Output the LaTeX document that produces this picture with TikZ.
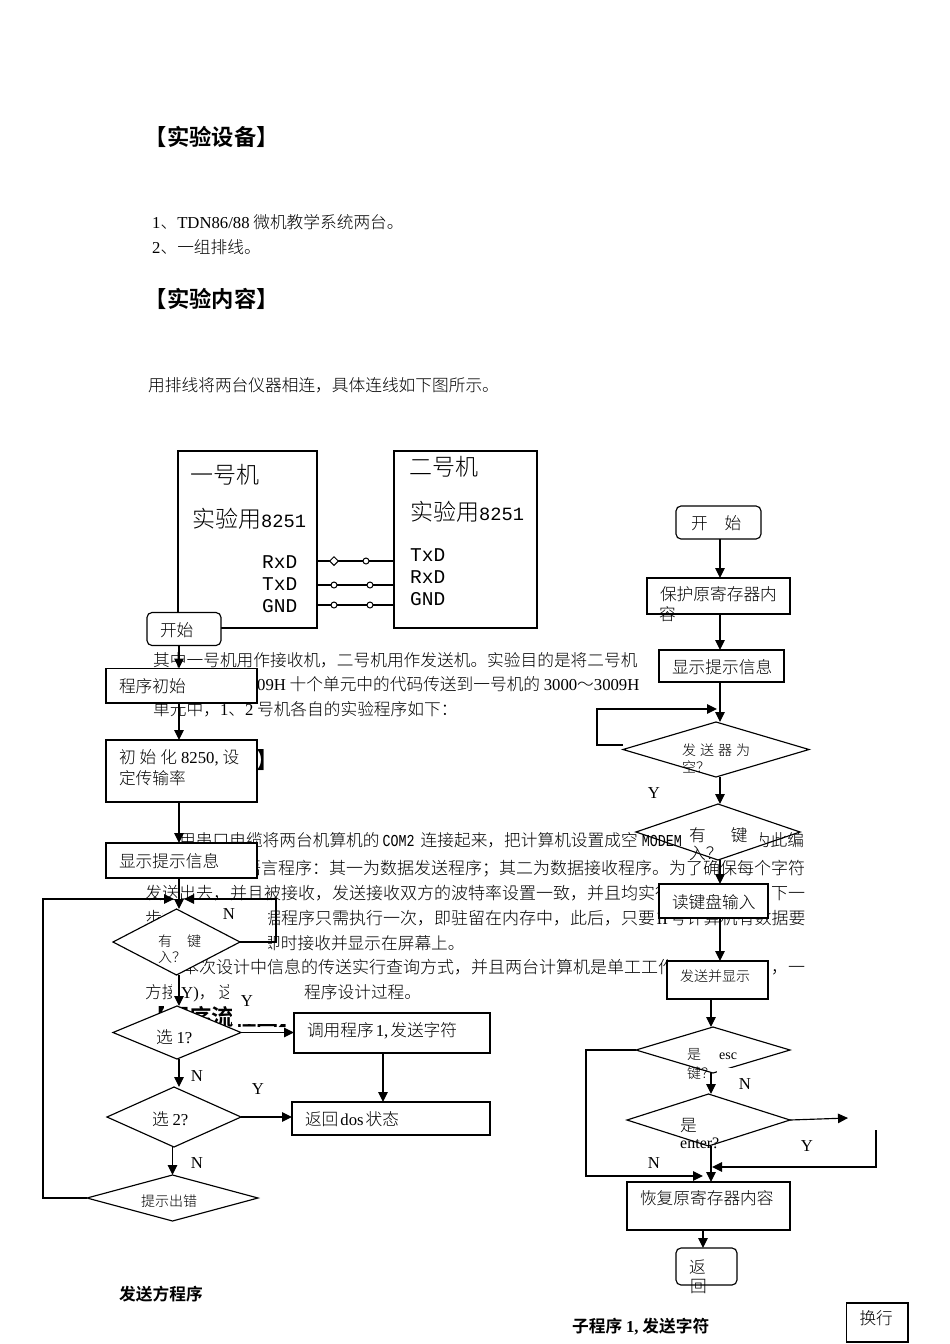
\documentclass[tikz,border=0pt]{standalone}
\usepackage{fontspec}
\usepackage{amsmath}
\setmainfont{Noto Sans CJK SC}[UprightFont={* Light},BoldFont={* Bold}]
\newfontfamily\lat{Liberation Serif}
\newfontfamily\tty{Liberation Mono}
\newfontfamily\narrow[FakeStretch=0.8]{Liberation Mono}
\newcommand{\fsz}[1]{\fontsize{#1}{#1}\selectfont}
\usetikzlibrary{shapes.geometric,arrows.meta}
\begin{document}
\begin{tikzpicture}[x=1pt,y=-1pt,
    capt/.style={anchor=base west, inner sep=0pt, font=\fsz{16.7}},
    captsmall/.style={capt, font=\fsz{14}},
    widecapt/.style={capt, font=\fsz{17}},
    headline/.style={capt, font=\fsz{22.3}\bfseries},
    bigcapt/.style={capt, font=\fsz{23}},
    pinlabel/.style={capt, font=\tty\fsz{19.5}},
    yn/.style={inner sep=0pt, font=\lat\fsz{16.7}},
    mach/.style={draw, fill=white, line width=1.15pt, anchor=north west, inner sep=0pt, outer sep=0pt},
    flowbox/.style 2 args={draw, fill=white, line width=1.15pt, anchor=north west, align=left,
        inner xsep=13pt, inner ysep=0pt, outer sep=0pt, text width={#1pt-26pt}, minimum height=#2pt,
        text height=14pt, text depth=0pt, font=\fontsize{16.7}{21}\selectfont},
    startbox/.style 2 args={flowbox={#1}{#2}, rounded corners=5pt},
    flowdia/.style 2 args={draw, diamond, aspect=1, inner sep=0pt, outer sep=0pt, line width=1.15pt,
        minimum width=#1pt, minimum height=#2pt},
    tap/.style={draw, fill=white, inner sep=0pt, line width=1pt},
    flow/.style={draw, line width=1.15pt, -{Triangle[length=10pt,width=9.5pt]}}]
    \useasboundingbox (0,0) rectangle (950,1344);

    \node[headline] (title1) at (144.7,145) {【实验设备】};
    \node[capt] (item1) at (152,228) {{\lat 1}、{\lat TDN86/88} 微机教学系统两台。};
    \node[capt] (item2) at (152,253) {{\lat 2}、一组排线。};
    \node[headline] (title2) at (144.7,307) {【实验内容】};
    \node[capt] (intro) at (148,391) {用排线将两台仪器相连，具体连线如下图所示。};
    \node[capt] (text1) at (153,666) {其中一号机用作接收机，二号机用作发送机。实验目的是将二号机};
    \node[capt] (text2) at (257,690) {{\lat 09H} 十个单元中的代码传送到一号机的 {\lat 3000}～{\lat 3009H}};
    \node[capt] (text3) at (153,715) {单元中，{\lat 1}、{\lat 2} 号机各自的实验程序如下：};
    \node[headline] (title3) at (256,768) {】};
    \node[capt] (text4) at (179,846) {用串口电缆将两台机算机的\hspace{3pt}{\narrow COM2}\hspace{6pt}连接起来，把计算机设置成空\hspace{4pt}{\narrow MODEM}\hspace{72pt}为此编};
    \node[widecapt] (text5) at (244,874) {语言程序：其一为数据发送程序；其二为数据接收程序。为了确保每个字符};
    \node[widecapt] (text6a) at (145,899) {发送出去，并且被接收，发送接收双方的波特率设置一致，并且均实行};
    \node[widecapt] (text6b) at (771,899) {下一};
    \node[widecapt] (text7a) at (145,924) {步接};
    \node[widecapt] (text7b) at (264,924) {据程序只需执行一次，即驻留在内存中，此后，只要\hspace{1.5pt}{\lat II}\hspace{1.5pt}号计算机有数据要};
    \node[capt] (text8) at (264,949) {即时接收并显示在屏幕上。};
    \node[widecapt] (text9a) at (182,973) {本次设计中信息的传送实行查询方式，并且两台计算机是单工工作};
    \node[widecapt] (text9b) at (771,973) {，一};
    \node[capt] (text10a) at (145,998) {方接};
    \node[capt] (text10b) at (181,998) {{\lat Y)}，\hspace{3pt}这};
    \node[capt] (text10c) at (304,998) {程序设计过程。};
    \node[headline] (title4) at (144.7,1025) {【程序流程图】};

    \fill[white] (163,907) rectangle (268,956);
    \fill[white] (172,983) rectangle (181,1004);
    \fill[white] (229,983) rectangle (304,1004);
    \fill[white] (232,1004) rectangle (294,1024);
    \fill[white] (164,1004) rectangle (180,1025);
    \fill[white] (683,822) rectangle (760,860);

    \node[mach, minimum width=139pt, minimum height=177pt] (mach1) at (178,451) {};
    \node[mach, minimum width=143pt, minimum height=177pt] (mach2) at (394,451) {};
    \node[bigcapt] (name1) at (190,483) {一号机};
    \node[bigcapt] (chip1) at (192,527) {实验用{\tty\fsz{18.7}8251}};
    \node[bigcapt] (name2) at (409,475) {二号机};
    \node[bigcapt] (chip2) at (410,520) {实验用{\tty\fsz{18.7}8251}};
    \foreach \n/\t/\ya in {a/RxD/568, b/TxD/590, c/GND/612}
        \node[pinlabel] (pl\n) at (262,\ya) {\t};
    \foreach \n/\t/\yb in {a/TxD/561, b/RxD/583, c/GND/605}
        \node[pinlabel] (pr\n) at (410,\yb) {\t};
    \foreach \n/\y/\x/\s/\d in {a/561/366/diamond/9pt, b/585/370/circle/6pt, c/605/370/circle/6pt} {
        \draw[line width=1.15pt] (mach1.east |- 0,\y) -- (mach2.west |- 0,\y);
        \node[tap, \s, minimum size=\d] (tapl\n) at (334,\y) {};
        \node[tap, circle, minimum size=6pt] (tapr\n) at (\x,\y) {};
    }

    \coordinate (axl) at (179,0);
    \coordinate (axc) at (383,0);
    \coordinate (joinl) at (174,899);
    \coordinate (joinr) at (184,899);
    \coordinate (loopl) at (43,899);
    \coordinate (loopr) at (276,899);

    \node[startbox={74}{33}] (start1) at (147,612.5) {开始};
    \node[flowbox={151}{34.5}] (prog) at (106,668.5) {程序初始};
    \node[flowbox={151}{62}, text depth=30pt] (init) at (106,740) {初\hspace{4pt}始\hspace{4pt}化\hspace{4pt}{\lat 8250,}\hspace{4pt}设\\定传输率};
    \node[flowbox={151}{35}] (show1) at (106,843) {显示提示信息};
    \node[flowdia={127}{66}, fill=white] (key1) at (176.5,942) {};
    \node[flowdia={128}{53}, fill=white] (sel1) at (177,1032.5) {};
    \node[flowbox={196}{40}, text depth=8pt] (call1) at (294,1013) {调用程序\hspace{2pt}{\lat 1,}\hspace{2pt}发送字符};
    \node[flowbox={198}{33}] (ret1) at (292,1102) {返回\hspace{2pt}{\lat dos}\hspace{2pt}状态};
    \node[flowdia={134}{60}, fill=white] (sel2) at (174,1117) {};
    \node[flowdia={171}{46}, fill=white] (err) at (172.5,1198) {};
    \node[captsmall] (keya) at (158,946) {有\hspace{15pt}键};
    \node[captsmall] (keyb) at (158,962) {入？};
    \node[capt] (sela) at (156,1043) {选 {\lat 1?}};
    \node[capt] (selb) at (152,1125) {选 {\lat 2?}};
    \node[captsmall] (errt) at (141,1206) {提示出错};
    \node[yn] (n1) at (229,914) {N};
    \node[yn] (y1) at (247,1001) {Y};
    \node[yn] (n2) at (197,1076) {N};
    \node[yn] (y2) at (258,1089) {Y};
    \node[yn] (n3) at (197,1163) {N};
    \node[capt, font=\fsz{16.7}\bfseries] (sendname) at (119,1300) {发送方程序};

    \draw[flow] (start1.south -| axl) -- (prog.north -| axl);
    \draw[flow] (prog.south -| axl) -- (init.north -| axl);
    \draw[flow] (init.south -| axl) -- (show1.north -| axl);
    \draw[flow] (show1.south -| axl) -- (key1.north -| axl);
    \draw[flow] (key1.south -| axl) -- (sel1.north -| axl);
    \draw[flow] (sel1.south -| axl) -- (sel2.north -| axl);
    \draw[flow] (sel2.south -| err) -- (err.north);
    \draw[flow] (sel1.east) -- (call1.west |- sel1);
    \draw[flow] (sel2.east) -- (ret1.west |- sel2);
    \draw[flow] (call1.south -| axc) -- (ret1.north -| axc);
    \draw[flow] (key1.east) -| (loopr) -- (joinr);
    \draw[flow] (err.west) -| (loopl) -- (joinl);

    \coordinate (axr) at (720,0);
    \coordinate (axs) at (711,0);
    \coordinate (axt) at (703,0);
    \coordinate (txtop) at (597,709);
    \coordinate (txlow) at (597,745);
    \coordinate (txin) at (717,709);
    \coordinate (esclow) at (586,1176);
    \coordinate (escin) at (703,1176);
    \coordinate (entout) at (848,1118);
    \coordinate (entback) at (876,1130);
    \coordinate (entin) at (712,1167);

    \node[startbox={85}{33}] (start2) at (676,506) {\hspace{2pt}开\hspace{17pt}始};
    \node[flowbox={143}{36}, text depth=6pt] (save) at (647,578) {保护原寄存器内};
    \node[capt] (savet) at (659,620) {容};
    \node[flowbox={125}{32}] (show2) at (659,650) {显示提示信息};
    \node[flowdia={186}{55}, fill=white] (txe) at (716,749.5) {};
    \node[flowdia={164}{56}] (key2) at (718,832) {};
    \node[flowbox={109}{34}] (rd) at (659,884) {读键盘输入};
    \node[flowbox={101}{38}, text depth=12pt, font=\fsz{14}] (sendshow) at (667,961) {发送并显示};
    \node[flowdia={154}{46}] (esc) at (713,1050) {};
    \node[flowdia={163}{52}] (ent) at (708.5,1120) {};
    \node[flowbox={163}{48}, text depth=18pt] (restore) at (627,1182) {恢复原寄存器内容};
    \node[startbox={61}{37}] (ret2) at (676,1248) {返};
    \node[capt] (ret2t) at (690,1292) {回};
    \node[flowbox={61.5}{39}, text depth=10pt] (wrapline) at (846.5,1303) {换行};
    \node[captsmall] (txa) at (682,755) {发\hspace{4pt}送\hspace{4pt}器\hspace{4pt}为};
    \node[captsmall] (txb) at (682,772) {空？};
    \node[capt] (keyc) at (689,841) {有\hspace{25pt}键};
    \node[capt] (keyd) at (689,859) {入？};
    \node[captsmall] (esca) at (687,1059) {是\hspace{18pt}{\lat esc}};
    \node[captsmall] (escb) at (687,1078) {键？};
    \node[capt] (enta) at (680,1131) {是};
    \node[capt, font=\lat\fsz{16}] (entb) at (680,1148) {enter?};
    \node[yn] (y3) at (654,793) {Y};
    \node[yn] (n4) at (745,1084) {N};
    \node[yn] (n5) at (654,1163) {N};
    \node[yn] (y4) at (807,1146) {Y};
    \node[capt, font=\fsz{16.7}\bfseries] (subname) at (572,1332) {子程序 {\lat 1,} 发送字符};
    \fill[white] (717,1068) rectangle (733,1073);

    \draw[flow] (start2.south -| axr) -- (save.north -| axr);
    \draw[flow] (save.south -| axr) -- (show2.north -| axr);
    \draw[flow] (show2.south -| axr) -- (txe.north -| axr);
    \draw[flow] (txe.south -| axr) -- (key2.north -| axr);
    \draw[flow] (key2.south -| axr) -- (rd.north -| axr);
    \draw[flow] (rd.south -| axr) -- (sendshow.north -| axr);
    \draw[flow] (sendshow.south -| axs) -- (esc.north -| axs);
    \draw[flow] (esc.south -| axs) -- (ent.north -| axs);
    \draw[flow] (ent.south -| axs) -- (restore.north -| axs);
    \draw[flow] (restore.south -| axt) -- (ret2.north -| axt);
    \draw[flow] (txe.west |- txlow) -- (txlow) -- (txtop) -- (txin);
    \draw[flow] (esc.west) -| (esclow) -- (escin);
    \draw[flow] (ent.east) -- (entout);
    \draw[flow] (entback) |- (entin);
\end{tikzpicture}
\end{document}
